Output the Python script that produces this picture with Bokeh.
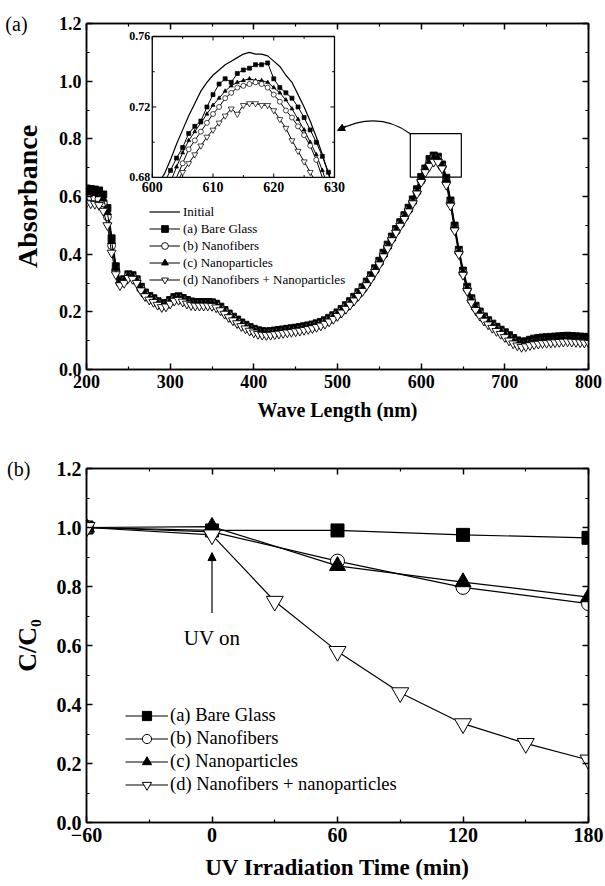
from bokeh.plotting import figure
from bokeh.layouts import column
from bokeh.models import (Range1d, LinearAxis, Legend, LegendItem, Label, Arrow,
                          NormalHead, FixedTicker, NumeralTickFormatter, BoxAnnotation,
                          CustomJSTickFormatter)
from bokeh.embed import file_html
from bokeh.resources import INLINE
from bokeh.core.properties import value

FONT = "Liberation Serif"

# ---------------- data: panel (a) absorbance spectra ----------------
wavelength = list(range(200, 805, 5))
abs_initial = [
    .635, .633, .631, .628, .615, .570, .465, .365, .312, .318,
    .335, .332, .318, .292, .272, .260, .252, .242, .234, .236,
    .246, .256, .259, .253, .246, .241, .239, .239, .239, .239,
    .238, .233, .223, .211, .199, .188, .178, .168, .160, .152,
    .146, .141, .138, .137, .138, .140, .142, .144, .146, .148,
    .150, .152, .155, .158, .161, .165, .170, .176, .184, .193,
    .203, .215, .228, .242, .257, .273, .290, .310, .332, .356,
    .382, .410, .438, .466, .492, .516, .540, .566, .596, .632,
    .675, .708, .737, .750, .746, .719, .668, .592, .505, .420,
    .348, .292, .252, .226, .206, .189, .176, .164, .153, .143,
    .134, .124, .114, .106, .101, .103, .108, .112, .114, .116,
    .117, .118, .119, .120, .121, .122, .121, .120, .119, .118,
    .118]
abs_bare_glass = [
    .628, .626, .624, .621, .607, .560, .455, .358, .306, .313,
    .330, .327, .313, .287, .267, .255, .247, .237, .229, .231,
    .241, .251, .254, .248, .241, .236, .234, .234, .234, .234,
    .233, .228, .218, .206, .194, .183, .173, .163, .155, .147,
    .141, .136, .133, .132, .133, .135, .137, .139, .141, .143,
    .145, .147, .150, .153, .156, .160, .165, .171, .179, .188,
    .198, .210, .223, .237, .252, .268, .285, .305, .327, .351,
    .377, .405, .433, .461, .487, .511, .535, .561, .590, .625,
    .668, .697, .730, .742, .738, .711, .665, .586, .499, .415,
    .343, .287, .247, .221, .201, .184, .171, .159, .148, .138,
    .129, .119, .109, .101, .096, .098, .103, .107, .109, .111,
    .112, .113, .114, .115, .116, .117, .116, .115, .114, .113,
    .113]
abs_nanofibers = [
    .600, .598, .596, .592, .578, .530, .430, .345, .300, .306,
    .323, .320, .306, .280, .260, .248, .240, .230, .222, .224,
    .234, .244, .247, .241, .234, .229, .227, .227, .227, .227,
    .226, .221, .211, .199, .187, .176, .166, .156, .148, .140,
    .134, .129, .126, .125, .126, .128, .130, .132, .134, .136,
    .138, .140, .143, .146, .149, .153, .158, .164, .172, .181,
    .191, .203, .216, .230, .245, .261, .278, .298, .320, .344,
    .370, .398, .426, .454, .480, .504, .528, .554, .582, .616,
    .655, .692, .717, .732, .729, .703, .652, .578, .491, .408,
    .336, .280, .240, .214, .194, .177, .164, .152, .141, .131,
    .120, .108, .098, .090, .085, .087, .091, .094, .096, .098,
    .099, .100, .101, .102, .103, .104, .103, .102, .101, .100,
    .100]
abs_nanoparticles = [
    .615, .613, .611, .607, .592, .545, .445, .352, .305, .308,
    .325, .322, .308, .282, .262, .250, .242, .232, .224, .226,
    .236, .246, .249, .243, .236, .231, .229, .229, .229, .229,
    .228, .223, .213, .201, .189, .178, .168, .158, .150, .142,
    .136, .131, .128, .127, .128, .130, .132, .134, .136, .138,
    .140, .142, .145, .148, .151, .155, .160, .166, .174, .183,
    .193, .205, .218, .232, .247, .263, .280, .300, .322, .346,
    .372, .400, .428, .456, .482, .506, .530, .556, .585, .619,
    .660, .697, .721, .734, .731, .707, .658, .582, .495, .410,
    .338, .282, .242, .216, .196, .179, .166, .154, .143, .133,
    .123, .111, .101, .093, .088, .090, .094, .097, .099, .101,
    .102, .103, .104, .105, .106, .107, .106, .105, .104, .103,
    .103]
abs_fibers_particles = [
    .578, .576, .574, .570, .550, .500, .405, .330, .292, .300,
    .317, .314, .300, .274, .254, .242, .234, .224, .216, .218,
    .228, .238, .241, .235, .228, .223, .221, .221, .221, .221,
    .220, .215, .205, .193, .181, .170, .160, .150, .142, .134,
    .128, .123, .120, .119, .120, .122, .124, .126, .128, .130,
    .132, .134, .137, .140, .143, .147, .152, .158, .166, .175,
    .185, .197, .210, .224, .239, .255, .272, .292, .314, .338,
    .364, .392, .420, .448, .474, .498, .522, .548, .576, .610,
    .650, .684, .706, .720, .719, .697, .640, .568, .482, .400,
    .328, .272, .232, .206, .186, .169, .156, .144, .133, .123,
    .112, .100, .090, .083, .078, .080, .084, .087, .089, .091,
    .092, .093, .094, .095, .096, .097, .096, .095, .094, .093,
    .093]

# ---------------- data: inset (600-630 nm) ----------------
inset_initial_x = [601.6] + list(range(602, 630)) + [629.2]
inset_initial_y = [0.680, .682, .690, .699, .707, .715, .722, .729, .734, .738, .741, .744,
                   .746, .748, .750, .751, .750, .750, .749, .746, .743, .738, .734,
                   .727, .720, .712, .703, .693, .682, 0.680]
inset_bare_x = list(range(603, 630))
inset_bare_y = [.684, .691, .697, .705, .709, .712, .720, .727, .733, .736, .734, .739,
                .741, .742, .744, .744, .745, .736, .731, .728, .725, .720, .714, .707,
                .700, .692, .683]
inset_bare_ends = (602.4, 629.3)
inset_fib_x = list(range(605, 628))
inset_fib_y = [.688, .696, .701, .706, .711, .716, .720, .725, .728, .731, .732, .733,
               .734, .733, .731, .727, .723, .718, .714, .709, .704, .698, .690]
inset_fib_ends = (604.0, 628.0)
inset_part_x = list(range(604, 629))
inset_part_y = [.686, .694, .701, .706, .711, .716, .721, .725, .729, .732, .734, .735,
                .736, .735, .735, .734, .731, .728, .724, .719, .713, .707, .700, .693, .684]
inset_part_ends = (603.3, 628.4)
inset_fp_x = list(range(605, 627))
inset_fp_y = [.683, .688, .693, .698, .703, .707, .711, .715, .719, .716, .721, .722,
              .722, .721, .721, .718, .713, .708, .701, .695, .689, .683]
inset_fp_ends = (604.5, 626.5)
inset_floor = 0.68

# ---------------- data: panel (b) C/C0 ----------------
time_min = [-60, 0, 60, 120, 180]
cc0_bare_glass = [1.00, 0.99, 0.99, 0.975, 0.965]
cc0_nanofibers = [1.00, 0.985, 0.886, 0.797, 0.742]
cc0_nanoparticles = [1.00, 1.003, 0.870, 0.815, 0.764]
time_fp = [-60, 0, 30, 60, 90, 120, 150, 180]
cc0_fibers_particles = [1.00, 0.975, 0.75, 0.58, 0.44, 0.335, 0.268, 0.212]

labels_a = ["Initial", "(a) Bare Glass", "(b) Nanofibers", "(c) Nanoparticles",
            "(d) Nanofibers + Nanoparticles"]
labels_b = ["(a) Bare Glass", "(b) Nanofibers", "(c) Nanoparticles",
            "(d) Nanofibers + nanoparticles"]


def style_axis(ax, label_size):
    ax.axis_line_width = 1.5
    ax.axis_line_color = "black"
    ax.major_tick_in = 6
    ax.major_tick_out = 0
    ax.minor_tick_in = 3
    ax.minor_tick_out = 0
    ax.major_tick_line_width = 1.5
    ax.minor_tick_line_width = 1.2
    ax.major_tick_line_color = "black"
    ax.minor_tick_line_color = "black"
    ax.major_label_text_font = FONT
    ax.major_label_text_font_style = "bold"
    ax.major_label_text_font_size = label_size
    ax.major_label_text_color = "black"
    ax.axis_label_text_font = FONT
    ax.axis_label_text_font_style = "bold"
    ax.axis_label_text_color = "black"


def make_fig(height, xr, yr, xticker, yticker, xlabel, ylabel, top, bottom, right,
             tick_size, xsize, ysize, xstand, ystand):
    p = figure(width=605, height=height, x_range=xr, y_range=yr,
               output_backend="svg", toolbar_location=None,
               min_border_left=86, min_border_right=right,
               min_border_top=top, min_border_bottom=bottom)
    p.xgrid.visible = False
    p.ygrid.visible = False
    p.outline_line_color = "black"
    p.outline_line_width = 1.5
    p.xaxis.ticker = xticker
    p.yaxis.ticker = yticker
    p.yaxis.formatter = NumeralTickFormatter(format="0.0")
    for ax in p.xaxis + p.yaxis:
        style_axis(ax, tick_size)
    p.xaxis.axis_label = xlabel
    p.yaxis.axis_label = ylabel
    p.xaxis.axis_label_text_font_size = xsize
    p.yaxis.axis_label_text_font_size = ysize
    p.xaxis.axis_label_standoff = xstand
    p.yaxis.axis_label_standoff = ystand
    for side, tk in (("above", xticker), ("right", yticker)):
        ax = LinearAxis(ticker=tk)
        style_axis(ax, tick_size)
        ax.major_label_text_font_size = "0px"
        ax.major_label_text_color = None
        ax.major_label_standoff = 0
        p.add_layout(ax, side)
    return p


y_ticker = FixedTicker(ticks=[0, 0.2, 0.4, 0.6, 0.8, 1.0, 1.2],
                       minor_ticks=[0.1, 0.3, 0.5, 0.7, 0.9, 1.1])

# ===================== panel (a) =====================
xa_ticker = FixedTicker(ticks=list(range(200, 801, 100)), minor_ticks=list(range(250, 800, 100)))
pa = make_fig(430, Range1d(200, 800), Range1d(0, 1.2), xa_ticker, y_ticker,
              "Wave Length (nm)", "Absorbance", 23, 61, 15,
              "18px", "20px", "28px", 8, 13)

r_init = pa.line(wavelength, abs_initial, line_color="black", line_width=1.2)
series_a = [
    (abs_bare_glass, "square", "black", 7),
    (abs_nanofibers, "circle", "white", 8),
    (abs_nanoparticles, "triangle", "black", 8),
    (abs_fibers_particles, "inverted_triangle", "white", 9),
]
items_a = [LegendItem(label=labels_a[0], renderers=[r_init])]
for (vals, mk, fc, sz), lab in zip(series_a, labels_a[1:]):
    rl = pa.line(wavelength, vals, line_color="black", line_width=1)
    rs = pa.scatter(wavelength, vals, marker=mk, size=sz, fill_color=fc,
                    line_color="black", line_width=0.9)
    items_a.append(LegendItem(label=lab, renderers=[rl, rs]))

leg_a = Legend(items=items_a, location=(63, 81), padding=0, margin=0, spacing=0,
               glyph_width=31, glyph_height=17, label_height=17, label_standoff=3,
               label_text_font=FONT, label_text_font_size="13px", label_text_color="black",
               border_line_color=None, background_fill_alpha=0)
pa.add_layout(leg_a)

# zoom box and curved arrow
pa.add_layout(BoxAnnotation(left=587, right=648, bottom=0.667, top=0.818,
                            fill_alpha=0, line_color="black", line_alpha=1, line_width=1.2))
pa.quadratic(x0=[587], y0=[0.818], x1=[501], y1=[0.830], cx=[548], cy=[0.900],
             line_color="black", line_width=1.2)
pa.add_layout(Arrow(end=NormalHead(size=7, fill_color="black", line_color="black"),
                    x_start=510.4, y_start=0.844, x_end=500, y_end=0.829,
                    line_color="black", line_width=1.2))

# inset drawn in its own sub-coordinates
inset_xlim = (600, 630)
inset_ylim = (0.68, 0.76)
sub = pa.subplot(x_source=Range1d(*inset_xlim), y_source=Range1d(*inset_ylim),
                 x_target=Range1d(278.6, 496.4), y_target=Range1d(0.666, 1.155))
sub.quad(left=[inset_xlim[0]], right=[inset_xlim[1]], bottom=[inset_ylim[0]],
         top=[inset_ylim[1]], fill_color="white", line_color="black", line_width=1.3)

tx_major = [600, 610, 620, 630]
tx_all = list(range(600, 631, 5))
ty_all = [0.68, 0.70, 0.72, 0.74, 0.76]
dy = 4 * (inset_ylim[1] - inset_ylim[0]) / 141.0
dx = 4 * (inset_xlim[1] - inset_xlim[0]) / 183.0
for tx in tx_all:
    ln = dy * (1.0 if tx in tx_major else 0.6)
    sub.segment(x0=[tx, tx], y0=[inset_ylim[0], inset_ylim[1]], x1=[tx, tx],
                y1=[inset_ylim[0] + ln, inset_ylim[1] - ln], line_color="black", line_width=1)
for ty in ty_all:
    ln = dx * (1.0 if ty in (0.68, 0.72, 0.76) else 0.6)
    sub.segment(x0=[inset_xlim[0], inset_xlim[1]], y0=[ty, ty],
                x1=[inset_xlim[0] + ln, inset_xlim[1] - ln],
                y1=[ty, ty], line_color="black", line_width=1)
sub.text(x=tx_major, y=[inset_ylim[0]] * 4, text=[str(t) for t in tx_major],
         text_align="center", text_baseline="top", y_offset=5,
         text_font=value(FONT), text_font_style="bold", text_font_size="14px")
sub.text(x=[inset_xlim[0]] * 3, y=[0.68, 0.72, 0.76], text=["0.68", "0.72", "0.76"],
         text_align="right", text_baseline="middle", x_offset=-2,
         text_font=value(FONT), text_font_style="bold", text_font_size="12px")

sub.line(inset_initial_x, inset_initial_y, line_color="black", line_width=1.2)
inset_series = [
    (inset_bare_x, inset_bare_y, inset_bare_ends, "square", "black", 4),
    (inset_part_x, inset_part_y, inset_part_ends, "triangle", "black", 4),
    (inset_fib_x, inset_fib_y, inset_fib_ends, "circle", "white", 5),
    (inset_fp_x, inset_fp_y, inset_fp_ends, "inverted_triangle", "white", 6),
]
for xs, ys, ends, mk, fc, sz in inset_series:
    sub.line([ends[0]] + xs + [ends[1]], [inset_floor] + ys + [inset_floor],
             line_color="black", line_width=1)
    sub.scatter(xs, ys, marker=mk, size=sz, fill_color=fc, line_color="black", line_width=0.7)

pa.add_layout(Label(x=103, y=1.2, text="(a)", text_font=FONT, text_font_size="20px",
                    text_color="black", text_baseline="middle", text_align="left"), "above")

# ===================== panel (b) =====================
xb_ticker = FixedTicker(ticks=[-60, 0, 60, 120, 180], minor_ticks=[-30, 30, 90, 150])
pb = make_fig(456, Range1d(-60, 180), Range1d(0, 1.2), xb_ticker, y_ticker,
              "UV Irradiation Time (min)", "C/C\u2080", 38, 64, 17,
              "20px", "23px", "26px", 10, 12)
pb.xaxis[0].formatter = CustomJSTickFormatter(code="return String(Math.round(tick));")

series_b = [
    (time_min, cc0_bare_glass, "square", "black", 13),
    (time_min, cc0_nanofibers, "circle", "white", 14),
    (time_min, cc0_nanoparticles, "triangle", "black", 16),
    (time_fp, cc0_fibers_particles, "inverted_triangle", "white", 17),
]
items_b = []
for (xs, ys, mk, fc, sz), lab in zip(series_b, labels_b):
    rl = pb.line(xs, ys, line_color="black", line_width=1.2)
    rs = pb.scatter(xs, ys, marker=mk, size=sz, fill_color=fc, line_color="black", line_width=1)
    items_b.append(LegendItem(label=lab, renderers=[rl, rs]))

leg_b = Legend(items=items_b, location=(39, 26), padding=0, margin=0, spacing=0,
               glyph_width=43, glyph_height=23, label_height=23, label_standoff=2,
               label_text_font=FONT, label_text_font_size="18.5px", label_text_color="black",
               border_line_color=None, background_fill_alpha=0)
pb.add_layout(leg_b)

pb.add_layout(Arrow(end=NormalHead(size=8, fill_color="black", line_color="black"),
                    x_start=0, y_start=0.71, x_end=0, y_end=0.915,
                    line_color="black", line_width=1.2))
pb.add_layout(Label(x=0, y=0.625, text="UV on", text_font=FONT, text_font_size="21px",
                    text_color="black", text_align="center", text_baseline="middle"))
pb.add_layout(Label(x=-98, y=1.2, text="(b)", text_font=FONT, text_font_size="20px",
                    text_color="black", text_baseline="middle", text_align="left"), "above")

layout = column(pa, pb, spacing=0)
open("out.html", "w").write(file_html(layout, INLINE))
